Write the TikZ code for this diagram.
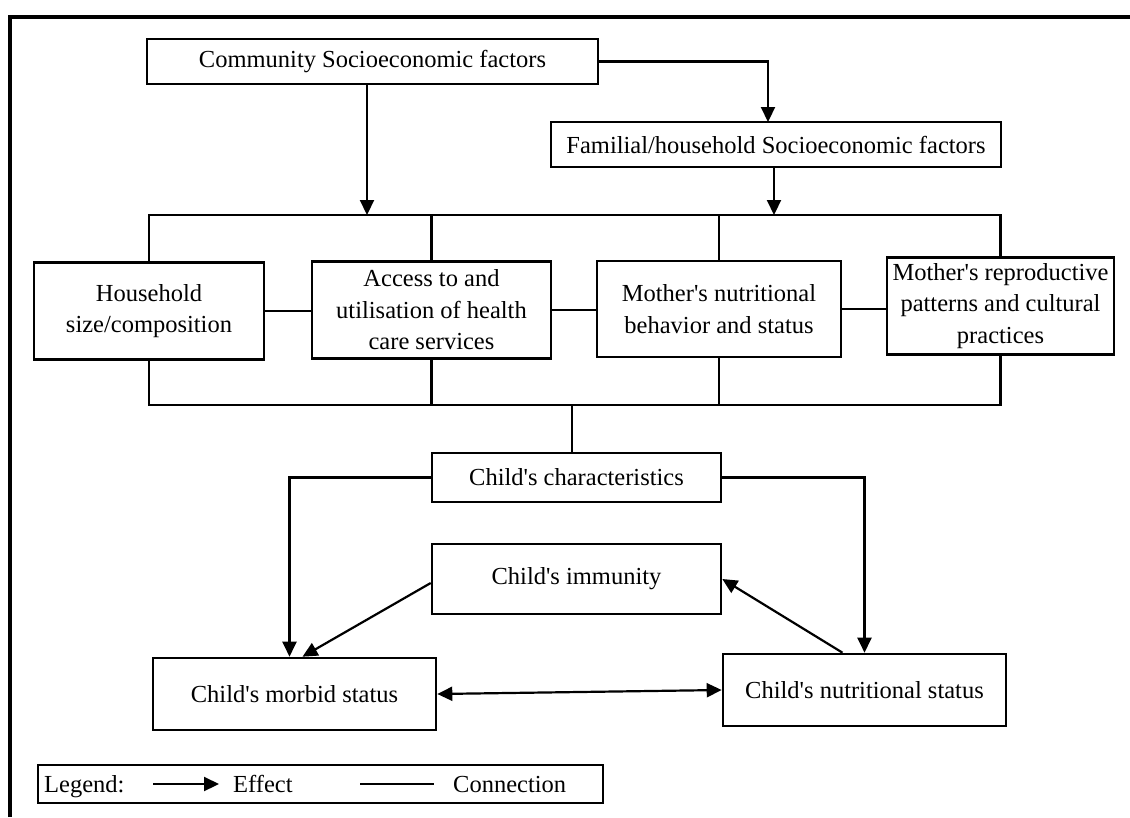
\documentclass[tikz,border=0pt]{standalone}
\usepackage{fontspec}
\setmainfont{Liberation Serif}[Ligatures=TeXOff]
\usetikzlibrary{arrows.meta,calc}
\tikzset{
  box/.style={draw, line width=2.6pt, inner sep=0pt, align=center, font=\fontsize{24.5}{31.5}\selectfont},
  conn/.style={line width=2.2pt},
  arr/.style={line width=2.2pt, -{Triangle[length=15pt,width=14pt]}},
  arrtwo/.style={line width=2.2pt, {Triangle[length=15pt,width=14pt]}-{Triangle[length=15pt,width=14pt]}},
  txt/.style={inner sep=0pt, font=\fontsize{24.5}{31.5}\selectfont},
}
\begin{document}
\begin{tikzpicture}[x=1pt,y=-1pt]
\useasboundingbox (0,0) rectangle (1130,817);
% frame
\draw[line width=3.4pt] (10,817) -- (10,17) -- (1130,17);

% boxes
\node[box, minimum width=451pt, minimum height=45pt] (comm) at (372.5,61.5) {Community Socioeconomic factors};
\node[box, minimum width=450pt, minimum height=45pt] (fam) at (776,144.5) {Familial/household Socioeconomic factors};
\node[box, minimum width=230pt, minimum height=97pt] (hh) at (149,311) {Household\\size/composition};
\node[box, minimum width=239pt, minimum height=97pt] (acc) at (431.5,310) {Access to and\\utilisation of health\\care services};
\node[box, minimum width=244pt, minimum height=96pt] (mnut) at (719,309) {Mother's nutritional\\behavior and status};
\node[box, minimum width=227pt, minimum height=97pt] (mrep) at (1000.5,306) {Mother's reproductive\\patterns and cultural\\practices};
\node[box, minimum width=289pt, minimum height=49pt] (char) at (576.5,477.5) {Child's characteristics};
\node[box, minimum width=289pt, minimum height=70pt] (imm) at (576.5,579) {Child's immunity};
\node[box, minimum width=283pt, minimum height=72pt] (morb) at (294.5,694) {Child's morbid status};
\node[box, minimum width=283pt, minimum height=72pt] (nutr) at (864.5,690) {Child's nutritional status};

% coordinates
\coordinate (bus) at (0,215);
\coordinate (lbus) at (0,405);
\coordinate (cj) at (367,215);
\coordinate (fj) at (768,122);
\coordinate (fb) at (774,215);
\coordinate (cv) at (572,405);

% top arrows
\draw[arr] (comm.south -| cj) -- (cj);
\draw[arr] (comm.east) -| (fj);
\draw[arr] (fam.south -| fb) -- (fb);

% upper bus
\draw[conn] (hh.north) -- (hh.north |- bus) -- (mrep.north |- bus) -- (mrep.north);
\draw[conn] (acc.north) -- (acc.north |- bus);
\draw[conn] (mnut.north) -- (mnut.north |- bus);

% side connectors
\draw[conn] (hh.east) -- (hh.east -| acc.west);
\draw[conn] (acc.east) -- (acc.east -| mnut.west);
\draw[conn] (mnut.east) -- (mnut.east -| mrep.west);

% lower bus
\draw[conn] (hh.south) -- (hh.south |- lbus) -- (mrep.south |- lbus) -- (mrep.south);
\draw[conn] (acc.south) -- (acc.south |- lbus);
\draw[conn] (mnut.south) -- (mnut.south |- lbus);
\draw[conn] (cv) -- (cv |- char.north);

% child section
\draw[arr] (char.west) -| ([xshift=-5pt]morb.north);
\draw[arr] (char.east) -| (nutr.north);
\draw[arr] ([yshift=-4pt]imm.west) -- ([xshift=8pt]morb.north);
\draw[arr] ([xshift=-22pt]nutr.north) -- (imm.east);
\draw[arrtwo] (morb.east) -- (nutr.west);

% legend
\node[draw, line width=2.6pt, minimum width=565pt, minimum height=38pt, inner sep=0pt] (leg) at (320.5,784) {};
\node[txt, anchor=base west] (lgt) at (44,792) {Legend:};
\coordinate (la1) at (153,784);
\coordinate (la2) at (219,784);
\draw[arr] (la1) -- (la2);
\node[txt, anchor=base west] (eff) at (233,792) {Effect};
\coordinate (lc1) at (360,784);
\coordinate (lc2) at (434,784);
\draw[conn] (lc1) -- (lc2);
\node[txt, anchor=base west] (con) at (453,792) {Connection};
\end{tikzpicture}
\end{document}
